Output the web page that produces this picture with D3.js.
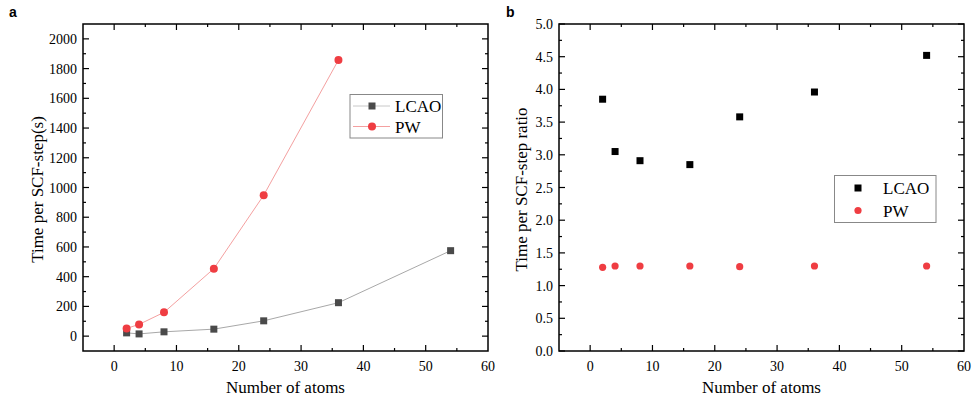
<!DOCTYPE html>
<html><head><meta charset="utf-8">
<script src="https://cdn.jsdelivr.net/npm/d3@7"></script>
<style>body{margin:0;background:#fff}svg{display:block}
.sf{font-family:"Liberation Serif","DejaVu Serif","Times New Roman",Times,serif}
.ss{font-family:"Liberation Sans","DejaVu Sans",Arial,sans-serif}</style>
</head><body>
<script>
const atoms = [2, 4, 8, 16, 24, 36, 54];
const atomsPW = [2, 4, 8, 16, 24, 36];
const lcaoTime = [22, 15, 29, 47, 103, 225, 575];
const pwTime = [52, 79, 160, 454, 948, 1858];
const lcaoRatio = [3.85, 3.05, 2.91, 2.85, 3.58, 3.96, 4.52];
const pwRatio = [1.28, 1.30, 1.30, 1.30, 1.29, 1.30, 1.30];
const xTicks = [0, 10, 20, 30, 40, 50, 60];
const yTicksA = [0, 200, 400, 600, 800, 1000, 1200, 1400, 1600, 1800, 2000];
const yTicksB = [0, 0.5, 1, 1.5, 2, 2.5, 3, 3.5, 4, 4.5, 5];

const W = 973, H = 401;
const svg = d3.select("body").append("svg").attr("width", W).attr("height", H);

function panel(o) {
  const g = svg.append("g");
  const x = d3.scaleLinear().domain([-5, 60]).range([o.left, o.right]);
  const y = d3.scaleLinear().domain(o.yDomain).range([o.bottom, o.top]);
  const xMinor = [5, 15, 25, 35, 45, 55];
  const tickG = g.append("g").attr("stroke", "#000").attr("stroke-width", 1.2);
  xTicks.forEach(v => {
    if (v > -5 && v < 60) {
      tickG.append("line").attr("x1", x(v)).attr("x2", x(v)).attr("y1", o.bottom).attr("y2", o.bottom - 6);
      tickG.append("line").attr("x1", x(v)).attr("x2", x(v)).attr("y1", o.top).attr("y2", o.top + 6);
    }
  });
  xMinor.forEach(v => {
    tickG.append("line").attr("x1", x(v)).attr("x2", x(v)).attr("y1", o.bottom).attr("y2", o.bottom - 3);
    tickG.append("line").attr("x1", x(v)).attr("x2", x(v)).attr("y1", o.top).attr("y2", o.top + 3);
  });
  o.yTicks.forEach(v => {
    tickG.append("line").attr("x1", o.left).attr("x2", o.left + 6).attr("y1", y(v)).attr("y2", y(v));
    tickG.append("line").attr("x1", o.right).attr("x2", o.right - 6).attr("y1", y(v)).attr("y2", y(v));
  });
  o.yMinor.forEach(v => {
    tickG.append("line").attr("x1", o.left).attr("x2", o.left + 3).attr("y1", y(v)).attr("y2", y(v));
    tickG.append("line").attr("x1", o.right).attr("x2", o.right - 3).attr("y1", y(v)).attr("y2", y(v));
  });
  xTicks.forEach(v => {
    g.append("text").attr("class", "sf").attr("x", x(v)).attr("y", o.bottom + 20).attr("text-anchor", "middle")
      .attr("font-size", 14).text(v);
  });
  o.yTicks.forEach(v => {
    g.append("text").attr("class", "sf").attr("x", o.left - 6).attr("y", y(v) + 5).attr("text-anchor", "end")
      .attr("font-size", 14).text(o.yFmt(v));
  });
  g.append("rect").attr("x", o.left).attr("y", o.top).attr("width", o.right - o.left).attr("height", o.bottom - o.top)
    .attr("fill", "none").attr("stroke", "#000").attr("stroke-width", 1.5);
  g.append("text").attr("class", "sf").attr("x", (o.left + o.right) / 2).attr("y", 393).attr("text-anchor", "middle")
    .attr("font-size", 17).text("Number of atoms");
  g.append("text").attr("class", "sf").attr("transform", `translate(${o.yTitleX},${(o.top + o.bottom) / 2 + 2}) rotate(-90)`)
    .attr("text-anchor", "middle").attr("font-size", 17).text(o.yTitle);
  g.append("text").attr("class", "ss").attr("x", o.letterX).attr("y", 17)
    .attr("font-weight", "bold").attr("font-size", 14).text(o.letter);
  return {g, x, y};
}

// Panel a
const A = panel({left: 83, right: 488, top: 24, bottom: 351, yDomain: [-100, 2100],
  yTicks: yTicksA, yMinor: d3.range(100, 2100, 200), yFmt: d => d,
  yTitle: "Time per SCF-step(s)", yTitleX: 43, letter: "a", letterX: 9});
const lineA = d3.line().x(d => A.x(d[0])).y(d => A.y(d[1]));
const lcaoPts = atoms.map((a, i) => [a, lcaoTime[i]]);
const pwPts = atomsPW.map((a, i) => [a, pwTime[i]]);
A.g.append("path").attr("d", lineA(lcaoPts)).attr("fill", "none").attr("stroke", "#a8a8a8").attr("stroke-width", 1);
A.g.append("path").attr("d", lineA(pwPts)).attr("fill", "none").attr("stroke", "#f4a0a0").attr("stroke-width", 1);
A.g.selectAll(".sq").data(lcaoPts).join("rect").attr("x", d => A.x(d[0]) - 3.5).attr("y", d => A.y(d[1]) - 3.5)
  .attr("width", 7).attr("height", 7).attr("fill", "#4a4a4a");
A.g.selectAll(".ci").data(pwPts).join("circle").attr("cx", d => A.x(d[0])).attr("cy", d => A.y(d[1])).attr("r", 4)
  .attr("fill", "#ef3d42");
const la = A.g.append("g");
la.append("rect").attr("x", 350).attr("y", 94.5).attr("width", 92.5).attr("height", 43.5).attr("fill", "#fff").attr("stroke", "#888").attr("stroke-width", 1);
la.append("line").attr("x1", 353).attr("x2", 390).attr("y1", 106).attr("y2", 106).attr("stroke", "#c8c8c8");
la.append("rect").attr("x", 368.5).attr("y", 102.5).attr("width", 7).attr("height", 7).attr("fill", "#4a4a4a");
la.append("line").attr("x1", 353).attr("x2", 390).attr("y1", 126.5).attr("y2", 126.5).attr("stroke", "#f4a0a0");
la.append("circle").attr("cx", 372).attr("cy", 126.5).attr("r", 4).attr("fill", "#ef3d42");
la.append("text").attr("class", "sf").attr("x", 395).attr("y", 112).attr("font-size", 17).text("LCAO");
la.append("text").attr("class", "sf").attr("x", 395).attr("y", 132.5).attr("font-size", 17).text("PW");

// Panel b
const B = panel({left: 559, right: 964, top: 24, bottom: 351, yDomain: [0, 5],
  yTicks: yTicksB, yMinor: d3.range(0.25, 5, 0.5), yFmt: d3.format(".1f"),
  yTitle: "Time per SCF-step ratio", yTitleX: 527, letter: "b", letterX: 506});
B.g.selectAll(".sq").data(atoms.map((a, i) => [a, lcaoRatio[i]])).join("rect")
  .attr("x", d => B.x(d[0]) - 3.5).attr("y", d => B.y(d[1]) - 3.5).attr("width", 7).attr("height", 7).attr("fill", "#000");
B.g.selectAll(".ci").data(atoms.map((a, i) => [a, pwRatio[i]])).join("circle")
  .attr("cx", d => B.x(d[0])).attr("cy", d => B.y(d[1])).attr("r", 3.6).attr("fill", "#ef3d42");
const lb = B.g.append("g");
lb.append("rect").attr("x", 834.5).attr("y", 175.5).attr("width", 101.5).attr("height", 47).attr("fill", "#fff").attr("stroke", "#888").attr("stroke-width", 1);
lb.append("rect").attr("x", 854.5).attr("y", 184.5).attr("width", 7).attr("height", 7).attr("fill", "#000");
lb.append("circle").attr("cx", 858).attr("cy", 210.5).attr("r", 3.6).attr("fill", "#ef3d42");
lb.append("text").attr("class", "sf").attr("x", 883).attr("y", 194).attr("font-size", 17).text("LCAO");
lb.append("text").attr("class", "sf").attr("x", 883).attr("y", 216.5).attr("font-size", 17).text("PW");
</script>
</body></html>
